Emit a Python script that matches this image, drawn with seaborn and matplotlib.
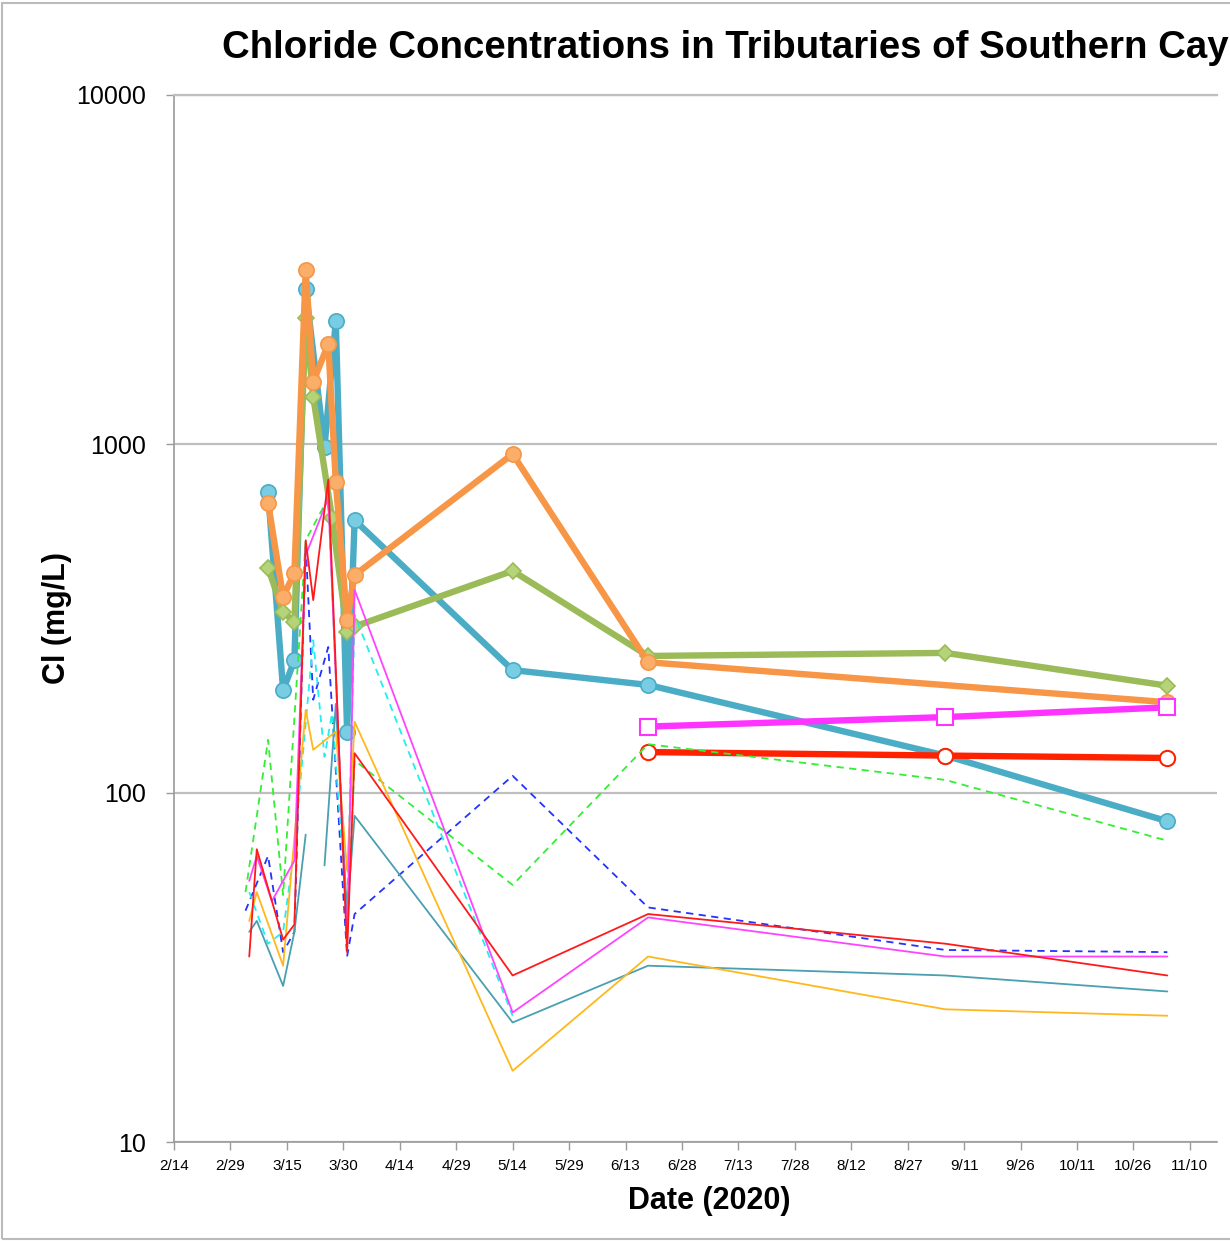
import numpy as np
import pandas as pd
import matplotlib
matplotlib.use("Agg")
import matplotlib.pyplot as plt
from matplotlib.patches import Rectangle
import seaborn as sns

# ---- data (mg/L) ----
nan = np.nan

blue_dates = ['3/10', '3/14', '3/17', '3/20', '3/25', '3/28', '3/31', '4/2', '5/14', '6/19', '9/6', '11/4']
blue_vals = [728, 197, 240, 2780, 980, 2250, 150, 605, 225, 204, 128, 83]

orange_dates = ['3/10', '3/14', '3/17', '3/20', '3/22', '3/26', '3/28', '3/31', '4/2', '5/14', '6/19', '11/4']
orange_vals = [678, 365, 427, 3150, 1506, 1935, 778, 313, 421, 936, 237, 182]

green_dates = ['3/10', '3/14', '3/17', '3/20', '3/22', '3/27', '3/31', '4/2', '5/14', '6/19', '9/6', '11/4']
green_vals = [442, 330, 309, 2297, 1365, 614, 290, 300, 433, 247, 252, 203]

magenta_dates = ['6/19', '9/6', '11/4']
magenta_vals = [155, 165, 176]

red_dates = ['6/19', '9/6', '11/4']
red_vals = [131, 128, 126]

# thin lines
gdash_dates = ['3/4', '3/10', '3/14', '3/20', '3/26', '3/31', '4/2', '5/14', '6/19', '9/6', '11/4']
gdash_vals = [52, 142, 51, 530, 700, 38, 124, 54.5, 138, 109, 73]

bdash_dates = ['3/4', '3/10', '3/14', '3/17', '3/20', '3/22', '3/26', '3/31', '4/2', '5/14', '6/19', '9/6', '11/4']
bdash_vals = [46, 66, 35, 40, 514, 185, 262, 34, 45, 112, 47, 35.5, 35]

cdash_dates = ['3/5', '3/10', '3/14', '3/17', '3/22', '3/25', '3/27', '3/31', '4/2', '5/14']
cdash_vals = [52, 37, 40, 70, 274, 127, 169, 45, 324, 23]

redthin_dates = ['3/5', '3/7', '3/14', '3/17', '3/20', '3/22', '3/26', '3/31', '4/2', '5/14', '6/19', '9/6', '11/4']
redthin_vals = [34, 69, 38, 42, 530, 357, 790, 35, 130, 30, 45, 37, 30]

magthin_dates = ['3/5', '3/7', '3/11', '3/17', '3/20', '3/26', '3/31', '4/2', '5/14', '6/19', '9/6', '11/4']
magthin_vals = [56, 66, 49, 64, 480, 700, 37, 382, 23.5, 44, 34, 34]

yel_dates = ['3/5', '3/7', '3/14', '3/20', '3/22', '3/28', '3/31', '4/2', '5/14', '6/19', '9/6', '11/4']
yel_vals = [43, 52, 32, 173, 133, 150, 60, 160, 16, 34, 24, 23]

teal_dates = ['3/5', '3/7', '3/14', '3/17', '3/20', '3/22', '3/25', '3/28', '3/31', '4/2', '5/14', '6/19', '9/6', '11/4']
teal_vals = [40, 43, 28, 40, 76, nan, 62, 180, 45, 86, 22, 32, 30, 27]

tick_start = '2020-02-14'
n_ticks = 19


def to_dt(dates):
    return pd.to_datetime(['2020/' + d for d in dates], format='%Y/%m/%d')


def draw(ax, dates, vals, **kw):
    # split on missing values so the line breaks there
    df = pd.DataFrame({'date': to_dt(dates), 'cl': vals})
    df['seg'] = df['cl'].isna().cumsum()
    for _, part in df.dropna().groupby('seg'):
        sns.lineplot(data=part, x='date', y='cl', ax=ax, sort=False, **kw)


sns.set_theme(style='white')
plt.rcParams['font.family'] = ['Liberation Sans', 'DejaVu Sans']
plt.rcParams['text.color'] = 'black'
plt.rcParams['axes.labelcolor'] = 'black'
plt.rcParams['xtick.color'] = 'black'
plt.rcParams['ytick.color'] = 'black'

fig = plt.figure(figsize=(12.3, 12.41), dpi=100)
W, H = 1230, 1241
ax = fig.add_axes([174 / W, 1 - 1142 / H, (1217 - 174) / W, (1142 - 95) / H])

# thick series with markers
draw(ax, blue_dates, blue_vals, color='#4BACC6', lw=4.6, marker='o', markersize=11,
     markerfacecolor='#78CDE3', markeredgecolor='#4BACC6', markeredgewidth=1.2)
draw(ax, green_dates, green_vals, color='#9BBB59', lw=4.6, marker='D', markersize=8,
     markerfacecolor='#B5D47A', markeredgecolor='#9BBB59', markeredgewidth=1.2)
draw(ax, orange_dates, orange_vals, color='#F79646', lw=4.6, marker='o', markersize=11,
     markerfacecolor='#FAAE6A', markeredgecolor='#F79646', markeredgewidth=1.2)
draw(ax, magenta_dates, magenta_vals, color='#FF33FF', lw=4.6, marker='s', markersize=11,
     markerfacecolor='white', markeredgecolor='#FF33FF', markeredgewidth=1.5)
draw(ax, red_dates, red_vals, color='#FF2200', lw=4.6, marker='o', markersize=11,
     markerfacecolor='white', markeredgecolor='#FF2200', markeredgewidth=1.5)

# thin series
draw(ax, gdash_dates, gdash_vals, color='#33EE33', lw=1.3, linestyle=(0, (4, 3)))
draw(ax, bdash_dates, bdash_vals, color='#2233FF', lw=1.3, linestyle=(0, (4, 3)))
draw(ax, cdash_dates, cdash_vals, color='#22EEEE', lw=1.3, linestyle=(0, (4, 3)))
draw(ax, teal_dates, teal_vals, color='#4A9FB0', lw=1.3)
draw(ax, yel_dates, yel_vals, color='#FFB81C', lw=1.3)
draw(ax, magthin_dates, magthin_vals, color='#FF44FF', lw=1.3)
draw(ax, redthin_dates, redthin_vals, color='#FF1A1A', lw=1.3)

# axes
ax.set_yscale('log')
ax.set_ylim(10, 10000)
ax.set_yticks([10, 100, 1000, 10000])
ax.set_yticklabels(['10', '100', '1000', '10000'])
ax.minorticks_off()
start = pd.Timestamp(tick_start)
ticks = pd.date_range(start, periods=n_ticks, freq='15D')
ax.set_xticks(ticks)
ax.set_xticklabels([f'{d.month}/{d.day}' for d in ticks])
ax.set_xlim(start, start + pd.Timedelta(days=277.2))

ax.grid(axis='y', color='#BFBFBF', lw=1.6)
ax.grid(axis='x', visible=False)
ax.spines['right'].set_visible(False)
ax.spines['top'].set_color('#BFBFBF')
ax.spines['top'].set_linewidth(1.6)
for s in ['left', 'bottom']:
    ax.spines[s].set_color('#9A9A9A')
    ax.spines[s].set_linewidth(1.2)
ax.tick_params(axis='x', which='major', direction='out', length=6, width=1, color='#9A9A9A',
               labelsize=11, pad=6, bottom=True)
ax.tick_params(axis='y', which='major', direction='out', length=6, width=1, color='#9A9A9A',
               labelsize=18, pad=14, left=True)

ax.set_xlabel('Date (2020)', fontsize=22, fontweight='bold')
ax.xaxis.set_label_coords(0.513, -0.042)
ax.set_ylabel('Cl (mg/L)', fontsize=22, fontweight='bold')
ax.yaxis.set_label_coords(-0.098, 0.5)

# title is cut off at the right edge in the reference
fig.text(222 / W, 1 - 48 / H, 'Chloride Concentrations in Tributaries of Southern Cayuga Lake',
         ha='left', va='center', fontsize=27.6, fontweight='bold')

fig.patches.append(Rectangle((2 / W, 2 / H), 1.2, 1 - 5 / H, transform=fig.transFigure,
                             fill=False, edgecolor='#BBBBBB', lw=1.5))

fig.savefig('out.png', dpi=100)
